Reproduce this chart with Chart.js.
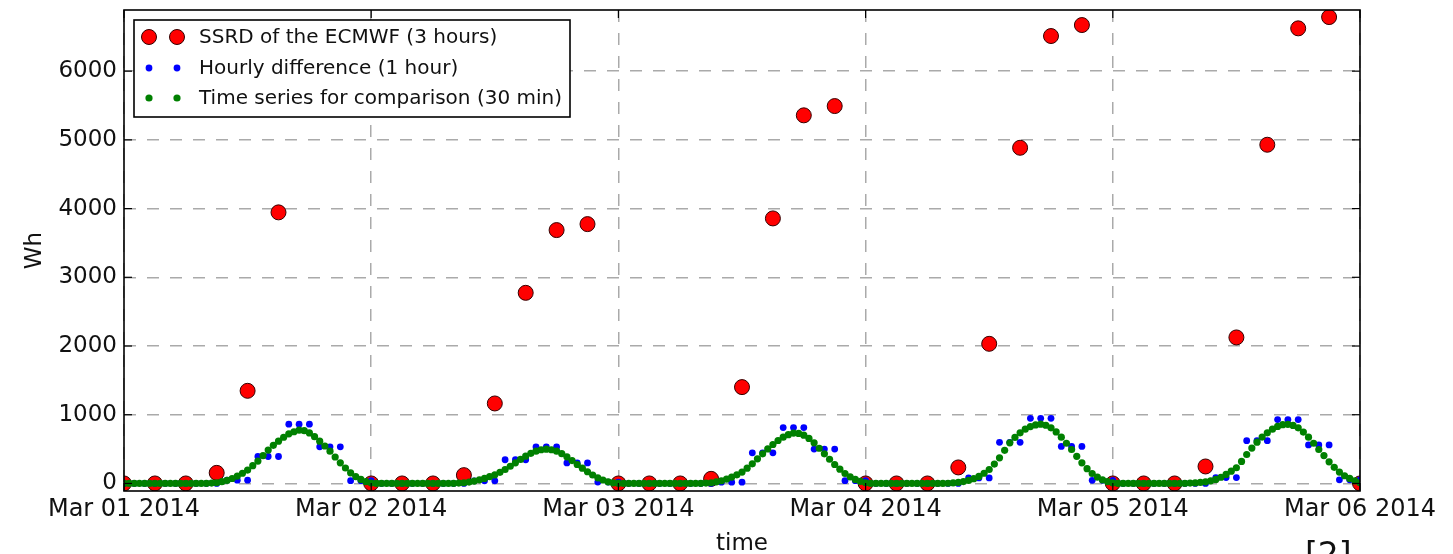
<!DOCTYPE html>
<html><head><meta charset="utf-8">
<script src="https://cdn.jsdelivr.net/npm/chart.js@4.4.1/dist/chart.umd.min.js"></script>
<style>html,body{margin:0;padding:0;background:#fff;}canvas{display:block;}</style>
</head><body>
<canvas id="c" width="1453" height="554"></canvas>
<script>
// ---------- DATA ----------
const tickLabels = ['Mar 01 2014','Mar 02 2014','Mar 03 2014','Mar 04 2014','Mar 05 2014','Mar 06 2014'];
const yTicks = [0,1000,2000,3000,4000,5000,6000];
const seriesNames = ['SSRD of the ECMWF (3 hours)','Hourly difference (1 hour)','Time series for comparison (30 min)'];

// SSRD, every 3 hours from Mar 01 00:00 (null = no value)
const ssrdDay1 = [0,0,0,154,1348,3945,null,null];
const ssrdDay2 = [0,0,0,121,1164,2774,3687,3774];
const ssrdDay3 = [0,0,0,67,1402,3857,5357,5492];
const ssrdDay4 = [0,0,0,233,2032,4885,6511,6671];
const ssrdDay5 = [0,0,0,247,2125,4929,6623,6787];
const ssrdEnd  = [0];

// hourly difference, every hour from Mar 01 00:00
const hourlyDay1 = [0,0,0,0,0,0,0,0,0,0,48,48,48,392,392,392,862,862,862,533,533,533,40,40];
const hourlyDay2 = [40,0,0,0,0,0,0,0,0,0,38,38,38,345,345,345,532,532,532,298,298,298,20,20];
const hourlyDay3 = [20,0,0,0,0,0,0,0,0,0,18,18,18,445,445,445,813,813,813,500,500,500,40,40];
const hourlyDay4 = [40,0,0,0,0,0,0,0,0,0,80,80,80,598,598,598,948,948,948,538,538,538,45,45];
const hourlyDay5 = [45,0,0,0,0,0,0,0,0,0,85,85,85,623,623,623,930,930,930,561,561,561,52,52];
const hourlyEnd  = [52];

// comparison series, every 30 min from Mar 01 00:00
const halfDay1 = [0,0,0,0,0,0,0,0,0,0,0,0,0,0,0,0,
  2,5,10,25,44,72,107,148,194,258,325,405,485,555,615,672,
  722,752,775,768,735,680,615,545,470,385,300,225,155,100,58,25];
const halfDay2 = [5,0,0,0,0,0,0,0,0,0,0,0,0,0,0,0,
  2,5,10,20,34,52,73,98,126,162,203,250,300,350,397,438,
  470,490,498,490,470,433,388,333,276,222,170,123,82,50,24,8];
const halfDay3 = [0,0,0,0,0,0,0,0,0,0,0,0,0,0,0,0,
  2,5,10,22,39,62,92,125,165,222,286,358,431,502,567,625,
  673,710,733,728,703,655,591,512,431,352,276,207,145,97,58,30];
const halfDay4 = [10,0,0,0,0,0,0,0,0,0,0,0,0,0,0,0,
  3,8,15,27,44,70,102,148,203,282,373,482,591,670,736,790,
  828,852,862,847,809,750,673,585,494,395,300,215,145,92,53,25];
const halfDay5 = [8,0,0,0,0,0,0,0,0,0,0,0,0,0,2,5,
  8,15,24,38,58,90,131,178,228,320,421,515,601,675,736,790,
  830,855,860,845,809,748,673,585,494,405,315,235,165,112,73,38];
const halfEnd  = [10];

const ssrd3h = [].concat(ssrdDay1,ssrdDay2,ssrdDay3,ssrdDay4,ssrdDay5,ssrdEnd);
const hourly = [].concat(hourlyDay1,hourlyDay2,hourlyDay3,hourlyDay4,hourlyDay5,hourlyEnd);
const halfHourly = [].concat(halfDay1,halfDay2,halfDay3,halfDay4,halfDay5,halfEnd);

// ---------- CHART ----------
const FAM = "'DejaVu Sans', 'Liberation Sans', sans-serif";
const toPts = (arr, stepHours) => arr.map((v,i)=>({x:i*stepHours, y:v})).filter(p=>p.y!==null);

const colors = {red:'#ff0000', blue:'#0000ff', green:'#008000'};

const framePlugin = {
  id:'frameLegend',
  afterDraw(chart){
    const {ctx, chartArea:a, scales:{x, y}} = chart;
    ctx.save();
    const line=(x1,y1,x2,y2)=>{ctx.beginPath();ctx.moveTo(x1,y1);ctx.lineTo(x2,y2);ctx.stroke();};
    ctx.strokeStyle='#000'; ctx.lineWidth=1.2; ctx.setLineDash([]);
    yTicks.forEach(v=>{const py=y.getPixelForValue(v); line(a.left,py,a.left+8,py); line(a.right-8,py,a.right,py);});
    tickLabels.forEach((_,i)=>{const px=x.getPixelForValue(i*24); line(px,a.top,px,a.top+8); line(px,a.bottom-8,px,a.bottom);});
    ctx.lineWidth=1.6;
    ctx.strokeRect(a.left,a.top,a.right-a.left,a.bottom-a.top);

    // legend
    const lx=a.left+10, ly=a.top+10, lw=436, lh=97;
    ctx.fillStyle='#fff'; ctx.fillRect(lx,ly,lw,lh);
    ctx.lineWidth=1.6; ctx.strokeStyle='#000'; ctx.strokeRect(lx,ly,lw,lh);
    const ds = chart.data.datasets;
    const rows=[17,48,78];
    ds.forEach((d,i)=>{
      const cy=ly+rows[i];
      [lx+15,lx+43].forEach(cx=>{
        ctx.beginPath(); ctx.arc(cx,cy,d.pointRadius,0,Math.PI*2);
        ctx.fillStyle=d.backgroundColor; ctx.fill();
        if(d.pointBorderWidth){ctx.lineWidth=d.pointBorderWidth; ctx.strokeStyle=d.pointBorderColor; ctx.stroke();}
      });
      ctx.fillStyle='#111'; ctx.font="20px "+FAM; ctx.textBaseline='middle'; ctx.textAlign='left';
      ctx.fillText(d.label, lx+65, cy+1);
    });

    // citation mark at the bottom edge
    ctx.fillStyle='#111'; ctx.font="33px "+FAM; ctx.textBaseline='top'; ctx.textAlign='left';
    ctx.fillText('[2]', 1305, 541);
    ctx.restore();
  }
};

new Chart(document.getElementById('c'), {
  type:'scatter',
  data:{datasets:[
    {label:seriesNames[0], data:toPts(ssrd3h,3), backgroundColor:colors.red, borderColor:'#300',
     pointRadius:7.5, pointBorderWidth:1, pointBorderColor:'#300', pointBackgroundColor:colors.red, order:3},
    {label:seriesNames[1], data:toPts(hourly,1), backgroundColor:colors.blue, borderColor:colors.blue,
     pointRadius:3.4, pointBorderWidth:0, pointBackgroundColor:colors.blue, order:2},
    {label:seriesNames[2], data:toPts(halfHourly,0.5), backgroundColor:colors.green, borderColor:colors.green,
     pointRadius:3.6, pointBorderWidth:0, pointBackgroundColor:colors.green, order:1}
  ]},
  options:{
    responsive:false, animation:false, devicePixelRatio:1,
    layout:{padding:{left:0,top:10,right:93,bottom:0}},
    plugins:{legend:{display:false}, tooltip:{enabled:false}},
    elements:{point:{hoverRadius:0}},
    scales:{
      x:{type:'linear', min:0, max:120,
        afterBuildTicks:s=>{s.ticks=tickLabels.map((_,i)=>({value:i*24}));},
        afterFit:s=>{s.height=63; s.paddingLeft=0; s.paddingRight=0;},
        ticks:{callback:v=>tickLabels[Math.round(v/24)], maxRotation:0, autoSkip:false,
               font:{family:FAM,size:24}, color:'#111', padding:4},
        grid:{color:'#aaaaaa', lineWidth:1.5, drawTicks:false},
        border:{display:false, dash:[12,11]},
        title:{display:true, text:'time', font:{family:FAM,size:23}, color:'#111', padding:{top:0,bottom:-4}}
      },
      y:{min:-110, max:6890,
        afterBuildTicks:s=>{s.ticks=yTicks.map(v=>({value:v}));},
        afterFit:s=>{s.width=124; s.paddingTop=0; s.paddingBottom=0;},
        ticks:{callback:v=>String(v), font:{family:FAM,size:23}, color:'#111', padding:7},
        grid:{color:'#aaaaaa', lineWidth:1.5, drawTicks:false},
        border:{display:false, dash:[12,11]},
        title:{display:true, text:'Wh', font:{family:FAM,size:23}, color:'#111', padding:{top:21,bottom:0}}
      }
    }
  },
  plugins:[framePlugin]
});
</script>
</body></html>
